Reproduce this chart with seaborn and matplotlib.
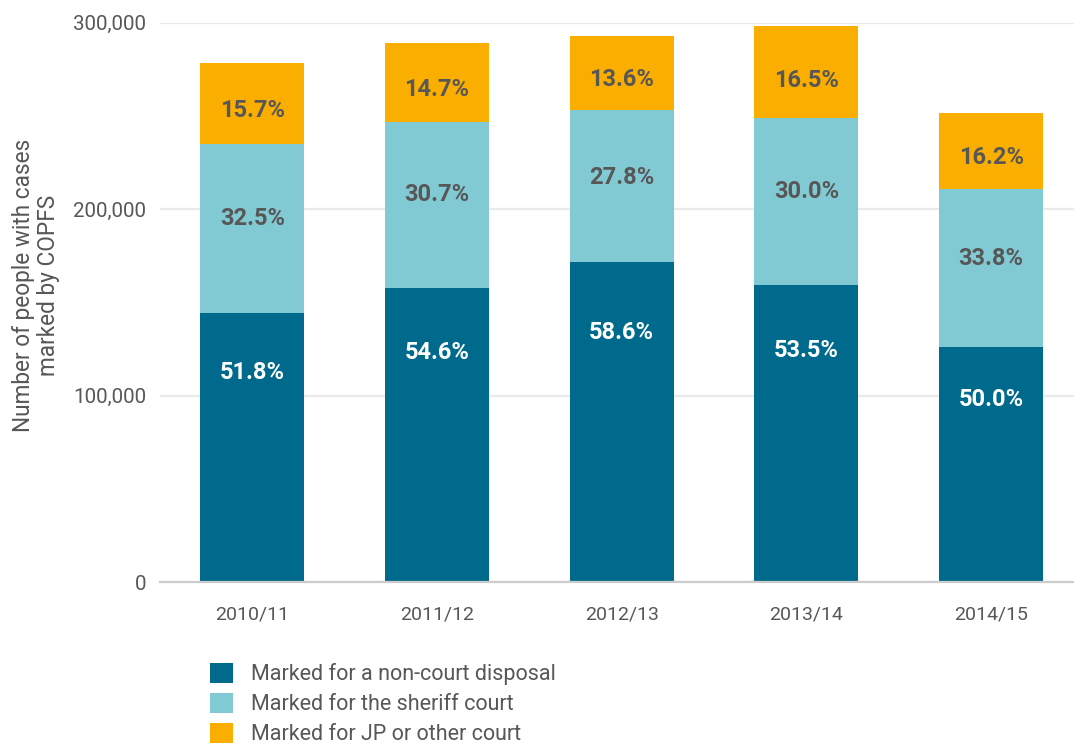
import numpy as np
import pandas as pd
import matplotlib
matplotlib.use("Agg")
import matplotlib.pyplot as plt
import seaborn as sns
from matplotlib.patches import Patch
from matplotlib.ticker import FuncFormatter, FixedLocator

# ---- data ----
years = ["2010/11", "2011/12", "2012/13", "2013/14", "2014/15"]
non_court = [144300, 157900, 171600, 159500, 125800]
sheriff = [90500, 88800, 81400, 89500, 85000]
jp_other = [43700, 42500, 39800, 49200, 40800]
pct_non_court = ["51.8%", "54.6%", "58.6%", "53.5%", "50.0%"]
pct_sheriff = ["32.5%", "30.7%", "27.8%", "30.0%", "33.8%"]
pct_jp = ["15.7%", "14.7%", "13.6%", "16.5%", "16.2%"]
series_names = ["Marked for a non-court disposal",
                "Marked for the sheriff court",
                "Marked for JP or other court"]
yticks = [0, 100000, 200000, 300000]
ylabel = "Number of people with cases\nmarked by COPFS"

colors = ["#006A8C", "#82CAD3", "#F9AE00"]
text_gray = "#575757"

sns.set_style("white")
plt.rcParams['font.family'] = ['Roboto', 'DejaVu Sans']

df = pd.DataFrame({"year": years, "non_court": non_court,
                   "sheriff": sheriff, "jp": jp_other})
df["c1"] = df["non_court"]
df["c2"] = df["c1"] + df["sheriff"]
df["c3"] = df["c2"] + df["jp"]

W, H = 1074, 748
fig = plt.figure(figsize=(W / 100, H / 100), dpi=100)
left, right, top, bottom = 160, 1083.5, 22.7, 582
ax = fig.add_axes([left / W, 1 - bottom / H, (right - left) / W, (bottom - top) / H])

bw = 0.563
for col, c in [("c3", colors[2]), ("c2", colors[1]), ("c1", colors[0])]:
    sns.barplot(data=df, x="year", y=col, color=c, saturation=1,
                width=bw, ax=ax, zorder=3, edgecolor="none", linewidth=0)

ax.set_xlim(-0.5, 4.5)
ax.set_ylim(0, 300000)
ax.set_xlabel("")
ax.set_ylabel("")

# grid
ax.yaxis.grid(True, color="#EAEAEA", lw=1.6, zorder=0)
ax.xaxis.grid(False)
ax.set_axisbelow(True)
for s in ["top", "right", "left"]:
    ax.spines[s].set_visible(False)
ax.spines["bottom"].set_color("#CCCCCC")
ax.spines["bottom"].set_linewidth(1.6)
ax.spines["bottom"].set_zorder(5)

ax.set_yticks(yticks)
ax.yaxis.set_major_formatter(FuncFormatter(lambda v, p: f"{int(v):,}"))
ax.tick_params(axis="y", length=0, pad=10, labelsize=14.8, labelcolor=text_gray)
ax.tick_params(axis="x", which="major", length=0, pad=17, labelsize=14, labelcolor=text_gray)
ax.xaxis.set_minor_locator(FixedLocator([0.5, 1.5, 2.5, 3.5]))
ax.tick_params(axis="x", which="minor", length=9.5, width=1.6, color="#CCCCCC", direction="out")

# segment labels
fr = [0.78, 0.56, 0.41]
for i in range(len(years)):
    b0, b1, b2, b3 = 0, df["c1"][i], df["c2"][i], df["c3"][i]
    ax.text(i, b0 + fr[0] * (b1 - b0), pct_non_court[i], ha="center", va="center",
            fontsize=17, fontweight="bold", color="white", zorder=6)
    ax.text(i, b1 + fr[1] * (b2 - b1), pct_sheriff[i], ha="center", va="center",
            fontsize=17, fontweight="bold", color=text_gray, zorder=6)
    ax.text(i, b2 + fr[2] * (b3 - b2), pct_jp[i], ha="center", va="center",
            fontsize=17, fontweight="bold", color=text_gray, zorder=6)

# y label
fig.text(36 / W, 1 - 285 / H, ylabel, rotation=90, ha="center", va="center",
         multialignment="center", fontsize=16.3, color=text_gray, linespacing=1.15)

# legend
handles = [Patch(facecolor=c, edgecolor="none") for c in colors]
fig.legend(handles, series_names, loc="upper left",
           bbox_to_anchor=(210 / W, 1 - 663 / H), frameon=False,
           fontsize=15.5, labelcolor=text_gray, handlelength=1.05, handleheight=1.05,
           handletextpad=0.85, labelspacing=0.36, borderpad=0, borderaxespad=0)

fig.savefig("out.png", dpi=100)
